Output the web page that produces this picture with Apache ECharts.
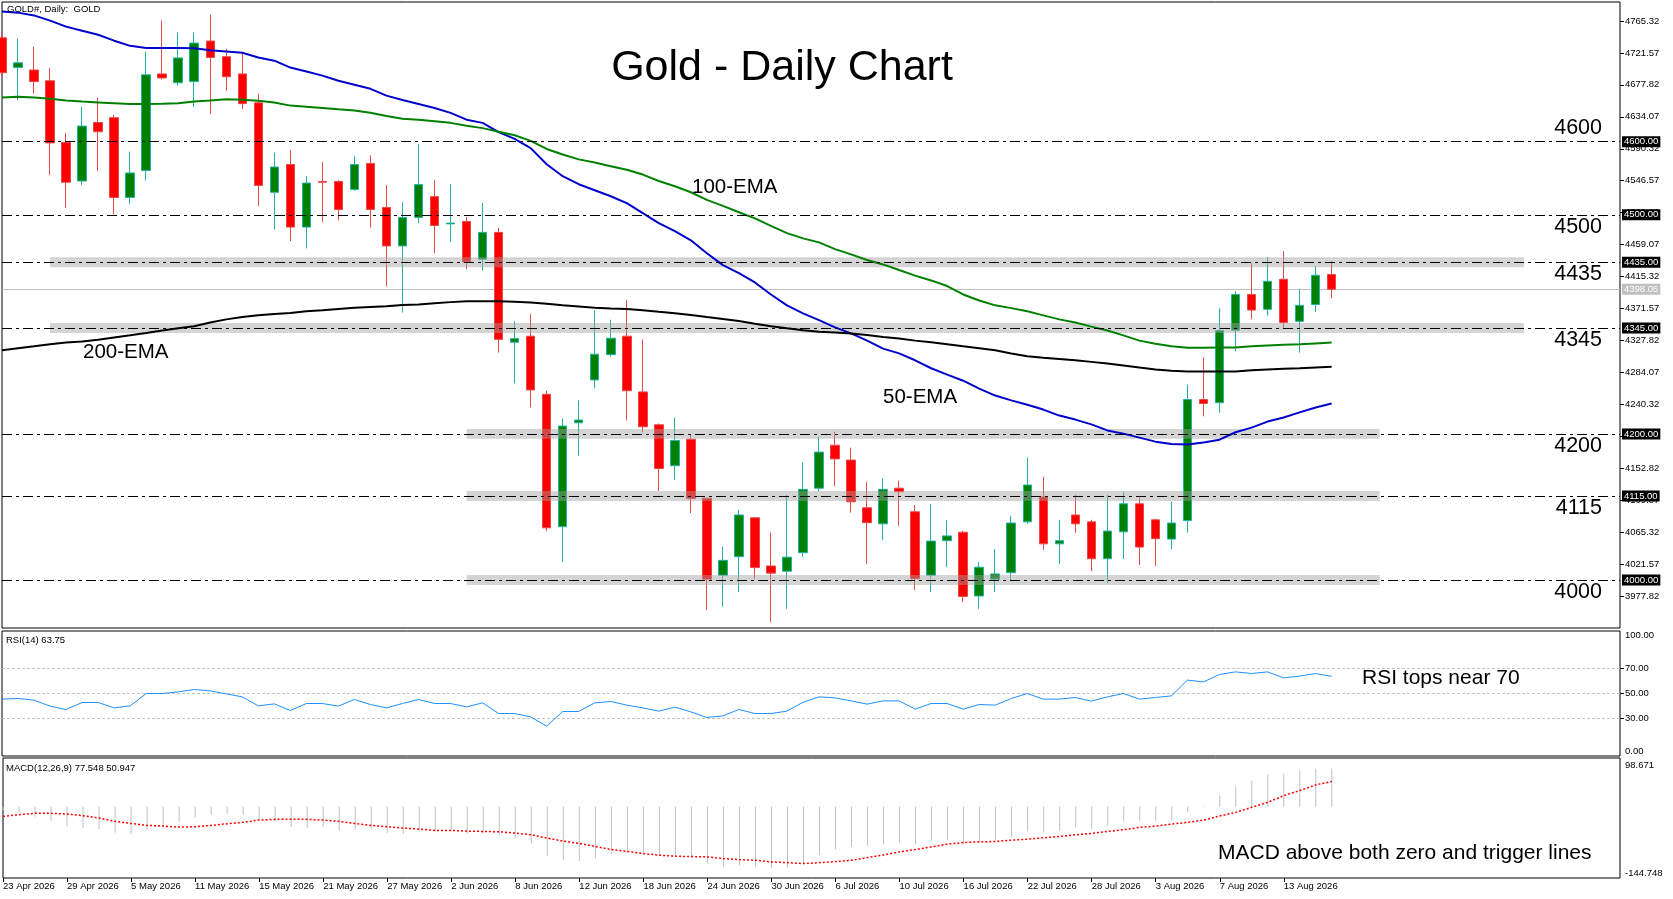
<!DOCTYPE html>
<html><head><meta charset="utf-8">
<script src="https://cdn.jsdelivr.net/npm/echarts@6/dist/echarts.min.js"></script>
<style>html,body{margin:0;padding:0;background:#fff}#c{width:1673px;height:899px}</style>
</head><body><div id="c"></div>
<script>
// ---------------- DATA ----------------
const dates = [
 '23 Apr 2026','24 Apr 2026','27 Apr 2026','28 Apr 2026','29 Apr 2026','30 Apr 2026',
 '1 May 2026','4 May 2026','5 May 2026','6 May 2026','7 May 2026','8 May 2026','11 May 2026','12 May 2026','13 May 2026','14 May 2026','15 May 2026',
 '18 May 2026','19 May 2026','20 May 2026','21 May 2026','22 May 2026','25 May 2026','26 May 2026','27 May 2026','28 May 2026','29 May 2026',
 '1 Jun 2026','2 Jun 2026','3 Jun 2026','4 Jun 2026','5 Jun 2026','8 Jun 2026','9 Jun 2026','10 Jun 2026','11 Jun 2026','12 Jun 2026',
 '15 Jun 2026','16 Jun 2026','17 Jun 2026','18 Jun 2026','19 Jun 2026','22 Jun 2026','23 Jun 2026','24 Jun 2026','25 Jun 2026','26 Jun 2026','29 Jun 2026','30 Jun 2026',
 '1 Jul 2026','2 Jul 2026','3 Jul 2026','6 Jul 2026','7 Jul 2026','8 Jul 2026','9 Jul 2026','10 Jul 2026','13 Jul 2026','14 Jul 2026','15 Jul 2026','16 Jul 2026','17 Jul 2026',
 '20 Jul 2026','21 Jul 2026','22 Jul 2026','23 Jul 2026','24 Jul 2026','27 Jul 2026','28 Jul 2026','29 Jul 2026','30 Jul 2026','31 Jul 2026',
 '3 Aug 2026','4 Aug 2026','5 Aug 2026','6 Aug 2026','7 Aug 2026','10 Aug 2026','11 Aug 2026','12 Aug 2026','13 Aug 2026','14 Aug 2026','17 Aug 2026','18 Aug 2026'
];
const open = [
 4742.2,4701.5,4698.2,4683.4,4598.9,4546.2,4626.3,4632.9,4523.7,4560.5,
 4692.8,4680.7,4682.3,4737.8,4716.4,4692.8,4653.2,4530.8,4568.7,4483.1,
 4545.6,4545.6,4534.7,4570.3,4510.0,4457.3,4496.2,4524.8,4487.5,4490.8,
 4439.2,4475.9,4325.5,4333.8,4254.2,4073.0,4215.2,4273.9,4308.5,4333.8,
 4257.5,4212.5,4156.5,4192.7,4112.0,4006.6,4031.9,4085.1,4019.2,4012.1,
 4037.4,4125.7,4184.5,4164.2,4098.9,4076.9,4125.7,4093.4,4006.6,4053.8,
 4065.4,3978.1,4001.1,4010.0,4079.6,4113.7,4049.5,4089.0,4079.6,4029.1,
 4065.9,4104.3,4082.4,4056.0,4081.3,4247.0,4242.7,4342.0,4390.9,4370.6,
 4411.7,4354.1,4377.1,4418.3
];
const high = [
 4748.0,4741.1,4730.1,4701.0,4612.1,4647.7,4660.4,4636.8,4586.3,4723.5,
 4765.8,4749.3,4749.3,4774.0,4727.3,4720.2,4665.9,4585.2,4589.0,4553.3,
 4572.0,4547.3,4580.2,4581.3,4540.7,4517.1,4597.2,4547.3,4541.8,4496.8,
 4516.0,4482.0,4354.1,4364.0,4259.1,4220.7,4245.9,4369.4,4356.3,4383.2,
 4329.4,4214.1,4222.4,4198.7,4112.5,4045.6,4096.1,4086.2,4064.8,4116.4,
 4160.9,4196.0,4203.1,4181.2,4134.5,4138.9,4136.2,4102.7,4104.3,4082.4,
 4067.6,4024.7,4042.3,4087.9,4167.5,4141.1,4082.4,4116.4,4082.4,4116.4,
 4120.8,4112.6,4084.0,4107.1,4267.4,4304.7,4371.6,4395.2,4433.7,4441.9,
 4450.1,4398.0,4429.8,4436.4
];
const low = [
 4690.0,4657.1,4665.9,4554.4,4509.4,4540.7,4559.9,4500.6,4514.4,4546.8,
 4685.1,4676.8,4647.7,4637.9,4669.7,4645.0,4512.2,4480.3,4463.9,4454.0,
 4489.7,4492.4,4533.0,4482.5,4401.8,4366.2,4488.6,4447.4,4462.8,4425.4,
 4423.8,4311.3,4269.0,4236.1,4067.0,4024.7,4170.2,4262.4,4305.8,4218.5,
 4202.0,4121.9,4137.3,4091.7,3958.9,3963.3,3983.6,4001.1,3942.4,3960.5,
 4031.3,4121.3,4129.0,4092.3,4022.0,4054.9,4074.1,3986.3,3983.6,4017.6,
 3969.8,3960.5,3983.6,4000.0,4076.9,4041.2,4022.0,4064.8,4012.1,3995.6,
 4028.6,4020.4,4019.2,4042.3,4064.8,4224.0,4228.9,4312.9,4356.8,4362.3,
 4344.2,4311.3,4366.7,4385.9
];
const close = [
 4694.4,4708.1,4682.3,4598.3,4544.5,4621.4,4613.7,4523.7,4557.2,4691.6,
 4687.3,4714.7,4735.0,4715.3,4688.9,4652.1,4540.2,4565.4,4483.1,4543.4,
 4544.5,4507.2,4568.7,4507.2,4457.3,4496.2,4541.3,4485.3,4488.6,4435.3,
 4475.9,4329.4,4330.5,4260.2,4071.4,4210.8,4219.0,4309.1,4331.0,4259.1,
 4209.7,4152.6,4191.1,4111.5,4001.1,4026.9,4089.0,4017.0,4009.4,4031.3,
 4124.1,4175.1,4165.8,4107.1,4078.5,4124.1,4120.8,4001.7,4053.3,4060.4,
 3977.5,4017.6,4008.3,4078.0,4130.1,4049.5,4053.8,4076.9,4029.1,4067.0,
 4104.3,4045.1,4056.6,4078.0,4247.0,4241.6,4341.4,4390.9,4369.5,4408.9,
 4352.4,4376.0,4417.2,4398.05
];
const ema50 = [
 4778.4,4776.7,4772.9,4765.8,4757.5,4752.0,4746.5,4738.3,4731.2,4728.4,
 4728.4,4728.4,4727.9,4725.1,4723.5,4721.8,4715.3,4710.9,4701.5,4696.0,
 4690.5,4683.4,4677.9,4672.4,4663.1,4657.1,4651.6,4646.1,4639.5,4630.2,
 4625.8,4613.2,4603.8,4591.2,4569.2,4552.8,4541.8,4533.6,4525.3,4516.0,
 4502.3,4488.6,4477.6,4465.0,4447.4,4431.0,4420.0,4407.3,4390.9,4376.0,
 4365.1,4355.7,4345.8,4337.6,4327.7,4316.8,4310.2,4300.8,4289.9,4281.1,
 4272.8,4261.9,4252.5,4245.9,4239.9,4233.3,4225.1,4219.6,4213.0,4204.8,
 4200.4,4194.9,4189.4,4186.1,4185.6,4188.3,4192.1,4202.3,4208.6,4216.9,
 4222.4,4229.5,4236.1,4241.6
];
const ema100 = [
 4660.4,4661.5,4660.4,4658.7,4656.5,4654.9,4653.8,4652.7,4651.6,4651.6,
 4652.1,4652.7,4654.9,4656.5,4658.2,4657.6,4656.0,4653.8,4649.4,4647.7,
 4646.1,4644.4,4642.8,4639.5,4635.1,4631.3,4630.2,4628.0,4625.8,4621.9,
 4618.6,4613.7,4608.8,4601.1,4590.1,4582.4,4575.8,4571.4,4566.5,4561.6,
 4555.0,4546.2,4539.1,4530.8,4520.4,4512.2,4503.4,4495.1,4484.7,4474.8,
 4467.7,4462.2,4452.9,4445.8,4438.1,4432.0,4424.3,4416.7,4410.1,4402.4,
 4390.9,4382.6,4376.0,4372.2,4367.8,4362.3,4356.8,4352.4,4346.9,4341.5,
 4334.9,4327.7,4323.3,4320.0,4317.8,4317.8,4318.4,4318.4,4320.0,4321.1,
 4322.2,4322.8,4323.9,4325.0
];
const ema200 = [
 4314.6,4317.3,4320.0,4322.8,4325.0,4326.6,4328.8,4332.1,4334.9,4338.1,
 4341.5,4344.7,4347.5,4352.4,4356.8,4360.1,4362.3,4364.0,4365.6,4367.8,
 4369.4,4371.1,4372.7,4373.8,4374.9,4376.6,4377.1,4378.8,4380.4,4381.5,
 4381.5,4381.5,4381.0,4379.9,4378.2,4376.0,4374.4,4372.7,4371.6,4371.1,
 4369.4,4367.2,4365.1,4362.9,4360.1,4357.4,4354.6,4350.8,4347.5,4344.7,
 4342.0,4339.8,4338.7,4337.6,4335.4,4332.7,4330.5,4327.7,4325.5,4322.8,
 4320.0,4317.3,4314.6,4310.2,4306.3,4304.1,4302.5,4300.8,4298.6,4296.4,
 4293.7,4290.9,4288.2,4286.6,4285.5,4285.5,4285.5,4285.5,4287.1,4288.2,
 4289.3,4289.9,4291.0,4292.1
];
const rsi = [
 45.5,46.0,44.7,39.9,37.2,42.8,42.8,38.5,40.1,50.0,
 50.0,51.3,53.2,52.1,49.7,47.3,40.1,41.7,36.4,42.0,
 42.0,39.9,45.2,41.2,38.5,42.0,45.2,42.0,42.0,39.3,
 42.5,34.0,34.0,31.3,23.9,35.6,35.6,42.5,43.6,40.7,
 38.5,35.9,39.1,35.3,30.8,32.1,37.2,34.0,34.0,35.9,
 43.0,47.3,46.5,44.1,41.5,44.1,44.1,37.5,42.0,42.0,
 37.5,41.2,40.7,46.0,50.0,45.5,45.5,46.8,43.9,47.3,
 50.0,45.5,46.8,48.1,60.7,59.3,65.2,67.3,66.0,67.3,
 62.5,63.9,66.0,63.75
];
const macdMain = [
 -8.0,-12.2,-20.4,-28.5,-40.8,-43.5,-45.5,-53.0,-55.7,-46.9,
 -39.4,-30.6,-22.4,-16.3,-14.3,-16.3,-25.1,-30.6,-41.5,-43.5,
 -40.1,-48.9,-46.9,-44.9,-53.7,-55.7,-50.3,-50.3,-49.6,-55.0,
 -55.0,-57.1,-63.9,-75.0,-100.0,-108.7,-110.1,-104.7,-96.5,-93.1,
 -96.5,-98.5,-101.3,-104.7,-115.5,-122.3,-118.9,-122.3,-125.0,-123.7,
 -115.5,-97.9,-86.3,-81.5,-79.5,-76.1,-72.7,-76.1,-69.3,-68.0,
 -76.1,-72.7,-68.0,-61.2,-50.3,-52.3,-48.9,-42.1,-45.5,-38.7,
 -29.9,-28.5,-28.5,-27.2,-11.6,2.0,22.4,40.8,53.0,65.2,
 66.6,73.4,76.8,77.548
];
const macdSignal = [
 -19.7,-16.3,-13.6,-13.6,-15.0,-18.3,-23.1,-29.9,-34.0,-38.1,
 -39.4,-41.5,-40.8,-38.1,-34.7,-31.9,-27.2,-25.8,-25.8,-25.8,
 -27.2,-29.9,-34.0,-38.1,-40.8,-43.5,-45.5,-48.3,-48.3,-49.6,
 -50.3,-51.0,-53.7,-57.1,-63.9,-70.0,-74.7,-80.9,-87.0,-91.1,
 -95.1,-98.5,-100.6,-101.3,-101.9,-105.3,-107.4,-108.7,-112.1,-113.5,
 -115.5,-113.5,-111.5,-108.7,-103.3,-97.9,-91.7,-87.0,-81.5,-76.1,
 -72.7,-71.4,-70.7,-68.0,-65.9,-63.2,-60.5,-57.1,-54.4,-50.3,
 -46.9,-42.1,-39.4,-35.3,-31.9,-27.2,-19.0,-11.6,-1.4,8.8,
 22.4,32.6,44.2,50.947
];
const priceTicks = [4765.32,4721.57,4677.82,4634.07,4590.32,4546.57,4502.82,4459.07,4415.32,4371.57,
 4327.82,4284.07,4240.32,4196.57,4152.82,4109.07,4065.32,4021.57,3977.82];
const levels = [4600, 4500, 4435, 4345, 4200, 4115, 4000];
// zones: [level, start bar index, end bar index]
const zones = [[4435,3,95],[4345,3,95],[4200,29,86],[4115,29,86],[4000,29,86]];
const lastPrice = 4398.05;
const rsiLevels = [70, 50, 30];
const rsiTickLabels = [0, 30, 50, 70, 100];
const macdRange = [-144.748, 98.671];

// ---------------- CHART ----------------
const SLOTS = 102;
const cats = dates.concat(Array.from({length: SLOTS - dates.length}, (_, k) => 'pad' + k));
const candle = dates.map((d, i) => [open[i], close[i], low[i], high[i]]);
const FONT = '"Liberation Sans", Arial, sans-serif';
const small = {fontFamily: FONT, fontSize: 9.5, color: '#000'};
const showIdx = (i) => i % 4 === 0 && i < dates.length;
const ZONE_HALF = 6.8;

const chart = echarts.init(document.getElementById('c'));
const gridBase = {left: 2, right: 53, show: true, borderColor: '#000', borderWidth: 1, backgroundColor: 'transparent'};
const hiddenX = (gi) => ({type: 'category', gridIndex: gi, data: cats, boundaryGap: false, show: false,
  axisLine: {show: false, onZero: false}});

chart.setOption({
  animation: false,
  backgroundColor: '#fff',
  grid: [
    Object.assign({top: 2, height: 626}, gridBase),
    Object.assign({top: 631, height: 125}, gridBase),
    Object.assign({top: 758, height: 120}, gridBase)
  ],
  xAxis: [
    hiddenX(0), hiddenX(1),
    {type: 'category', gridIndex: 2, data: cats, boundaryGap: false, position: 'bottom',
     axisLine: {show: false, onZero: false},
     axisTick: {show: true, interval: showIdx, length: 4, lineStyle: {color: '#000'}},
     axisLabel: Object.assign({interval: showIdx, align: 'left', margin: 3}, small),
     splitLine: {show: false}}
  ],
  yAxis: [
    {type: 'value', gridIndex: 0, position: 'right', min: 3934.3, max: 4791.25,
     splitLine: {show: false}, axisLine: {show: false},
     axisTick: {show: true, length: 4, lineStyle: {color: '#000'}, customValues: priceTicks},
     axisLabel: Object.assign({margin: 5, customValues: priceTicks, formatter: v => v.toFixed(2)}, small)},
    {type: 'value', gridIndex: 1, position: 'right', min: 0, max: 100,
     splitLine: {show: false}, axisLine: {show: false},
     axisTick: {show: true, length: 4, lineStyle: {color: '#000'}, customValues: rsiLevels},
     axisLabel: {margin: 5, customValues: rsiTickLabels,
       formatter: v => v === 100 ? '{t|100.00}' : (v === 0 ? '{b|0.00}' : '{n|' + v.toFixed(2) + '}'),
       rich: {t: Object.assign({padding: [8, 0, 0, 0]}, small), b: Object.assign({padding: [0, 0, 10, 0]}, small), n: Object.assign({}, small)}}},
    {type: 'value', gridIndex: 2, position: 'right', min: macdRange[0], max: macdRange[1],
     splitLine: {show: false}, axisLine: {show: false}, axisTick: {show: false},
     axisLabel: {margin: 5, customValues: macdRange,
       formatter: v => v > 0 ? '{t|' + v.toFixed(3) + '}' : '{b|' + v.toFixed(3) + '}',
       rich: {t: Object.assign({padding: [14, 0, 0, 0]}, small), b: Object.assign({padding: [0, 0, 9, 0]}, small)}}}
  ],
  series: [
    {type: 'line', xAxisIndex: 0, yAxisIndex: 0, data: [], silent: true, z: 1,
     markLine: {silent: true, symbol: 'none', z: 1, animation: false,
       lineStyle: {color: '#c0c0c0', width: 1, type: 'solid'},
       label: Object.assign({show: true, position: 'end', distance: 2, formatter: p => p.value.toFixed(2),
         backgroundColor: '#c0c0c0', padding: [1, 2, 0, 2], lineHeight: 10}, small, {color: '#fff'}),
       data: [{yAxis: lastPrice}]}},
    {type: 'candlestick', xAxisIndex: 0, yAxisIndex: 0, data: candle, barWidth: 9, z: 2,
     itemStyle: {color: '#008000', color0: '#ff0000', borderColor: '#20b2aa', borderColor0: '#e84848', borderWidth: 1}},
    {type: 'line', xAxisIndex: 0, yAxisIndex: 0, data: [], silent: true, z: 3,
     markArea: {silent: true, z: 3, itemStyle: {color: 'rgba(160,160,160,0.45)'},
       data: zones.map(([lv, a, b]) => [{xAxis: a, yAxis: lv - ZONE_HALF}, {xAxis: b, yAxis: lv + ZONE_HALF}])}},
    {name: '50-EMA', type: 'line', xAxisIndex: 0, yAxisIndex: 0, data: ema50, symbol: 'none', z: 4,
     lineStyle: {color: '#0000cd', width: 2}},
    {name: '100-EMA', type: 'line', xAxisIndex: 0, yAxisIndex: 0, data: ema100, symbol: 'none', z: 4,
     lineStyle: {color: '#008000', width: 2}},
    {name: '200-EMA', type: 'line', xAxisIndex: 0, yAxisIndex: 0, data: ema200, symbol: 'none', z: 4,
     lineStyle: {color: '#000', width: 2}},
    {type: 'line', xAxisIndex: 0, yAxisIndex: 0, data: [], silent: true, z: 5,
     markLine: {silent: true, symbol: 'none', z: 5, animation: false,
       lineStyle: {color: '#000', width: 1, type: [10, 4, 3, 4]},
       label: Object.assign({show: true, position: 'end', distance: 2, formatter: p => p.value.toFixed(2),
         backgroundColor: '#000', padding: [1, 2, 0, 2], lineHeight: 10}, small, {color: '#fff'}),
       data: levels.map(v => ({yAxis: v}))}},
    {name: 'RSI', type: 'line', xAxisIndex: 1, yAxisIndex: 1, data: rsi, symbol: 'none', z: 3,
     lineStyle: {color: '#1e90ff', width: 1},
     markLine: {silent: true, symbol: 'none', z: 2, label: {show: false},
       lineStyle: {color: '#c4c4c4', width: 1, type: [3, 2]},
       data: rsiLevels.map(v => ({yAxis: v}))}},
    {name: 'MACD', type: 'bar', xAxisIndex: 2, yAxisIndex: 2, data: macdMain, barWidth: 1,
     itemStyle: {color: '#c0c0c0'}, z: 2},
    {name: 'Signal', type: 'line', xAxisIndex: 2, yAxisIndex: 2, data: macdSignal, symbol: 'none', z: 3,
     lineStyle: {color: '#ff0000', width: 1.5, type: [2, 2]}}
  ]
});

// ---------------- TEXT ANNOTATIONS ----------------
const txt = (text, x, y, size, align) => ({type: 'text', x: x, y: y, z: 50, silent: true,
  style: {text: text, fill: '#000', font: size + 'px ' + FONT, textAlign: align || 'left', textVerticalAlign: 'middle'}});
const g = [
  txt('GOLD#, Daily:  GOLD', 7, 9, 9.5),
  txt('RSI(14) 63.75', 6, 640, 9.5),
  txt('MACD(12,26,9) 77.548 50.947', 6, 768, 9.5),
  txt('Gold - Daily Chart', 782, 68, 43, 'center'),
  txt('100-EMA', 692, 187, 20.5),
  txt('200-EMA', 83, 352, 20.5),
  txt('50-EMA', 883, 397, 20.5),
  txt('RSI tops near 70', 1362, 678, 21),
  txt('MACD above both zero and trigger lines', 1218, 853, 21)
];
levels.forEach(lv => {
  const y = chart.convertToPixel({yAxisIndex: 0}, lv);
  g.push(txt(String(lv), 1602, y + (lv === 4600 ? -13.7 : 12.3), 21.5, 'right'));
});
chart.setOption({graphic: g});
</script>
</body></html>
